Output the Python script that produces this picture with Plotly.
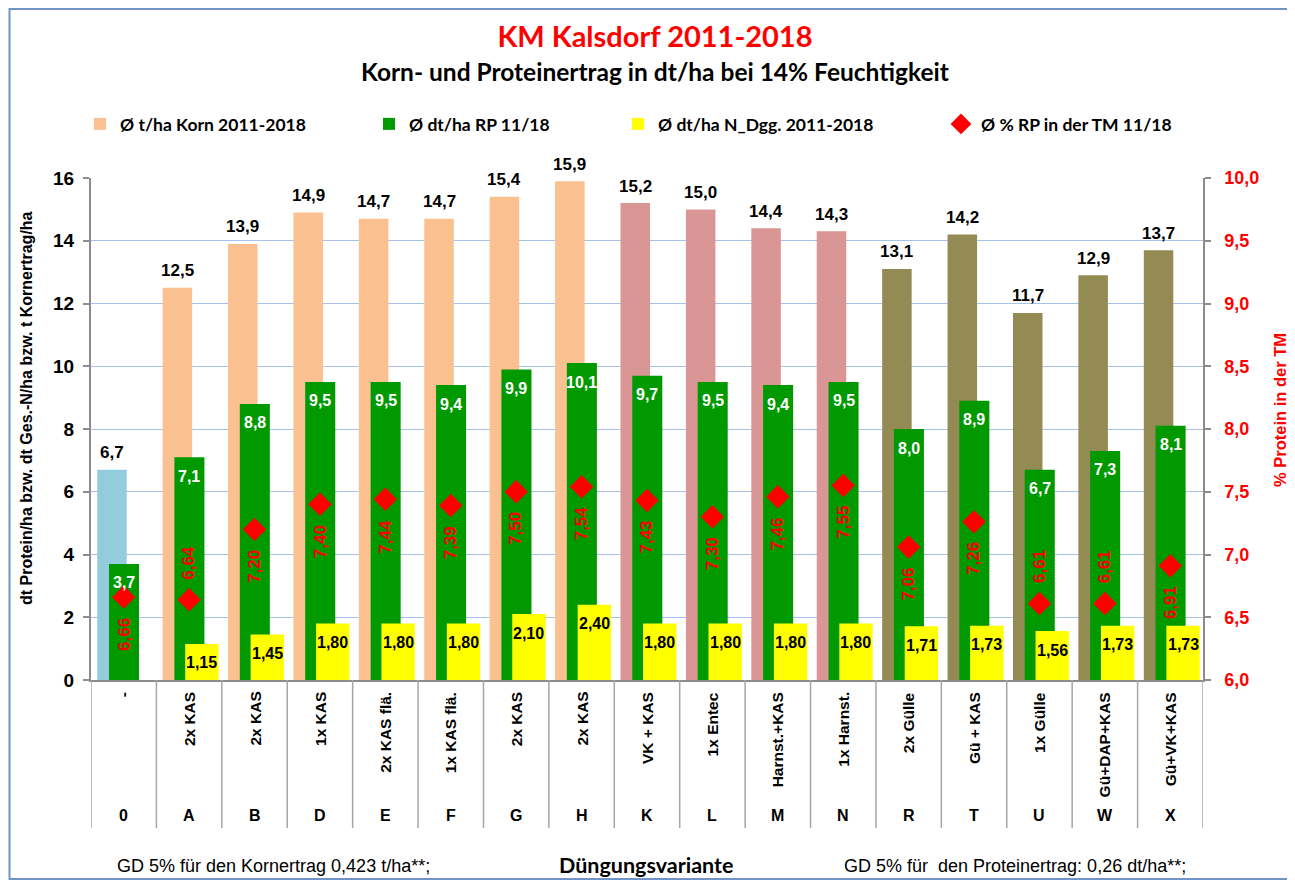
import plotly.graph_objects as go

# ---------------- data ----------------
codes = ["0", "A", "B", "D", "E", "F", "G", "H", "K", "L", "M", "N", "R", "T", "U", "W", "X"]
variants = ["-", "2x KAS", "2x KAS", "1x KAS", "2x KAS flä.", "1x KAS flä.", "2x KAS", "2x KAS",
            "VK + KAS", "1x Entec", "Harnst.+KAS", "1x Harnst.", "2x Gülle", "Gü + KAS",
            "1x Gülle", "Gü+DAP+KAS", "Gü+VK+KAS"]
korn = [6.7, 12.5, 13.9, 14.9, 14.7, 14.7, 15.4, 15.9, 15.2, 15.0, 14.4, 14.3, 13.1, 14.2, 11.7, 12.9, 13.7]
rp = [3.7, 7.1, 8.8, 9.5, 9.5, 9.4, 9.9, 10.1, 9.7, 9.5, 9.4, 9.5, 8.0, 8.9, 6.7, 7.3, 8.1]
ndgg = [0, 1.15, 1.45, 1.80, 1.80, 1.80, 2.10, 2.40, 1.80, 1.80, 1.80, 1.80, 1.71, 1.73, 1.56, 1.73, 1.73]
pct_rp = [6.66, 6.64, 7.20, 7.40, 7.44, 7.39, 7.50, 7.54, 7.43, 7.30, 7.46, 7.55, 7.06, 7.26, 6.61, 6.61, 6.91]
korn_group = ["base"] + ["KAS"] * 7 + ["harn"] * 4 + ["guelle"] * 5
pct_label_above = ["A", "U", "W"]

series_names = ["Ø t/ha Korn 2011-2018", "Ø dt/ha RP 11/18", "Ø dt/ha N_Dgg. 2011-2018", "Ø % RP in der TM 11/18"]
title_text = "KM Kalsdorf 2011-2018"
subtitle_text = "Korn- und Proteinertrag in dt/ha bei 14% Feuchtigkeit"
y_title = "dt Protein/ha bzw. dt Ges.-N/ha bzw. t Kornertrag/ha"
y2_title = "% Protein in der TM"
x_title = "Düngungsvariante"
foot_left = "GD 5% für den Kornertrag 0,423 t/ha**;"
foot_right = "GD 5% für  den Proteinertrag: 0,26 dt/ha**;"

# ---------------- styles ----------------
group_colors = {"base": "#93CDDD", "KAS": "#FAC090", "harn": "#D99694", "guelle": "#948A54"}
GREEN = "#009900"
YELLOW = "#FFFF00"
RED = "#FF0000"
GRID = "#A7C2E8"
AXIS = "#8C8C8C"
ARIAL = "Liberation Sans, Arial, sans-serif"
NARROW = "Liberation Sans Narrow, Arial Narrow, Liberation Sans, sans-serif"
CAL = "Lato, Carlito, Calibri, sans-serif"

K_OFF, K_W = -0.405, 0.451
G_OFF, G_W = -0.225, 0.459
Y_OFF, Y_W = -0.06, 0.51

BODY = 8                      # default page margin of the html body
W, H = 1295 - BODY, 883 - BODY
PLOT_X0, PLOT_X1, PLOT_Y0, PLOT_Y1 = 91, 1203, 178, 680   # screen pixels
L, T = PLOT_X0 - BODY, PLOT_Y0 - BODY
R, B = W - (PLOT_X1 - BODY), H - (PLOT_Y1 - BODY)
PW, PH = PLOT_X1 - PLOT_X0, PLOT_Y1 - PLOT_Y0


def sx(px):
    return (px - PLOT_X0) / PW


def sy(py):
    return (PLOT_Y1 - py) / PH


def de(v, d):
    return f"{v:.{d}f}".replace(".", ",")


idx = list(range(len(codes)))
fig = go.Figure()

# Korn bars (coloured by group)
for g in ["KAS", "base", "harn", "guelle"]:
    xs = [i for i in idx if korn_group[i] == g]
    fig.add_trace(go.Bar(
        x=xs, y=[korn[i] for i in xs], offset=K_OFF, width=K_W,
        marker=dict(color=group_colors[g], line=dict(width=0)),
        name=series_names[0], legendgroup="korn", showlegend=(g == "KAS"),
        legend="legend", hoverinfo="x+y",
    ))

fig.add_trace(go.Bar(x=idx, y=rp, offset=G_OFF, width=G_W, marker=dict(color=GREEN, line=dict(width=0)),
                     name=series_names[1], legend="legend2"))
fig.add_trace(go.Bar(x=idx, y=ndgg, offset=Y_OFF, width=Y_W, marker=dict(color=YELLOW, line=dict(width=0)),
                     name=series_names[2], legend="legend3"))
fig.add_trace(go.Scatter(x=idx, y=pct_rp, yaxis="y2", mode="markers",
                         marker=dict(symbol="diamond", size=18, color=RED),
                         name=series_names[3], legend="legend4"))

ann = []
for i in idx:
    ann.append(dict(x=i + K_OFF + K_W / 2, y=korn[i], text=de(korn[i], 1), showarrow=False,
                    xanchor="center", yanchor="middle", yshift=17,
                    font=dict(family=ARIAL, size=17, color="black", weight="bold")))
    ann.append(dict(x=i + G_OFF + G_W / 2, y=rp[i], text=de(rp[i], 1), showarrow=False,
                    xanchor="center", yanchor="middle", yshift=-19,
                    font=dict(family=ARIAL, size=16, color="white", weight="bold")))
    if ndgg[i] > 0:
        ann.append(dict(x=i + Y_OFF + Y_W / 2, y=ndgg[i], text=de(ndgg[i], 2), showarrow=False,
                        xanchor="center", yanchor="middle", yshift=-19,
                        font=dict(family=ARIAL, size=16, color="black", weight="bold")))
    ann.append(dict(x=i, y=pct_rp[i], yref="y2", text=de(pct_rp[i], 2), showarrow=False, textangle=-90,
                    xanchor="center", yanchor="middle", yshift=(37 if codes[i] in pct_label_above else -37),
                    font=dict(family=ARIAL, size=17, color=RED, weight="bold")))
    # category labels
    ann.append(dict(x=i, y=sy(690), yref="paper", text=variants[i], showarrow=False, textangle=-90,
                    xanchor="center", yanchor="top",
                    font=dict(family=ARIAL, size=15.5, color="black", weight="bold")))
    ann.append(dict(x=i, y=sy(815), yref="paper", text=codes[i], showarrow=False,
                    xanchor="center", yanchor="middle",
                    font=dict(family=NARROW, size=16, color="black", weight="bold")))


def paper_text(x, y, text, font, xanchor="center", angle=0):
    return dict(x=sx(x), y=sy(y), xref="paper", yref="paper", text=text, showarrow=False,
                xanchor=xanchor, yanchor="middle", textangle=angle, font=font)


ann.append(paper_text(655, 72, subtitle_text, dict(family=CAL, size=24.5, color="black", weight="bold")))
ann.append(paper_text(115, 866, foot_left, dict(family=ARIAL, size=18, color="black"), xanchor="left"))
ann.append(paper_text(646, 865, x_title, dict(family=CAL, size=21.5, color="black", weight="bold")))
ann.append(paper_text(842, 866, foot_right, dict(family=ARIAL, size=18, color="black"), xanchor="left"))
ann.append(paper_text(26, 408, y_title, dict(family=ARIAL, size=16, color="black", weight="bold"), angle=-90))
ann.append(paper_text(1280, 410, y2_title, dict(family=ARIAL, size=16.5, color=RED, weight="bold"), angle=-90))

shapes = []
for k in range(len(codes) + 1):
    shapes.append(dict(type="line", xref="x", yref="paper", x0=k - 0.5, x1=k - 0.5,
                       y0=0, y1=sy(828), line=dict(color="#A6A6A6", width=1.5)))
shapes.append(dict(type="rect", xref="paper", yref="paper", x0=sx(9.5), x1=sx(1290),
                   y0=sy(879), y1=sy(9), line=dict(color="#7094C8", width=2), layer="below"))

leg_font = dict(family=CAL, size=17.5, color="black", weight="bold")


def legend_at(text_start):
    return dict(orientation="h", x=sx(text_start - 40), xanchor="left", y=sy(124), yanchor="middle",
                font=leg_font, itemclick=False, itemdoubleclick=False, bgcolor="rgba(0,0,0,0)")


fig.update_layout(
    width=W, height=H, margin=dict(l=L, r=R, t=T, b=B, autoexpand=False),
    paper_bgcolor="white", plot_bgcolor="white",
    separators=",.",
    barmode="overlay",
    title=dict(text=title_text, x=(655 - BODY) / W, xanchor="center", xref="container",
               y=1 - (37 - BODY) / H, yanchor="middle", yref="container",
               font=dict(family=CAL, size=29, color=RED, weight="bold")),
    legend=legend_at(120),
    legend2=legend_at(409),
    legend3=legend_at(658),
    legend4=legend_at(981),
    xaxis=dict(range=[-0.5, len(codes) - 0.5], showticklabels=False, ticks="", showgrid=False,
               zeroline=False, showline=True, linecolor=AXIS, linewidth=1.5, fixedrange=True),
    yaxis=dict(range=[0, 16], dtick=2, tick0=0, showgrid=True, gridcolor=GRID, gridwidth=1,
               zeroline=False, showline=True, linecolor=AXIS, linewidth=2,
               ticks="outside", ticklen=6, tickcolor=AXIS, tickwidth=1.5, ticklabelstandoff=5,
               tickfont=dict(family=ARIAL, size=19, color="black", weight="bold")),
    yaxis2=dict(range=[6, 10], dtick=0.5, tick0=6, overlaying="y", side="right", showgrid=False,
                zeroline=False, showline=True, linecolor=AXIS, linewidth=1.5,
                ticks="outside", ticklen=6, tickcolor=AXIS, tickwidth=1.5, tickformat=".1f",
                ticklabelstandoff=10,
                tickfont=dict(family=ARIAL, size=18, color=RED, weight="bold")),
    annotations=ann, shapes=shapes, showlegend=True,
)

fig.write_html("out.html")
